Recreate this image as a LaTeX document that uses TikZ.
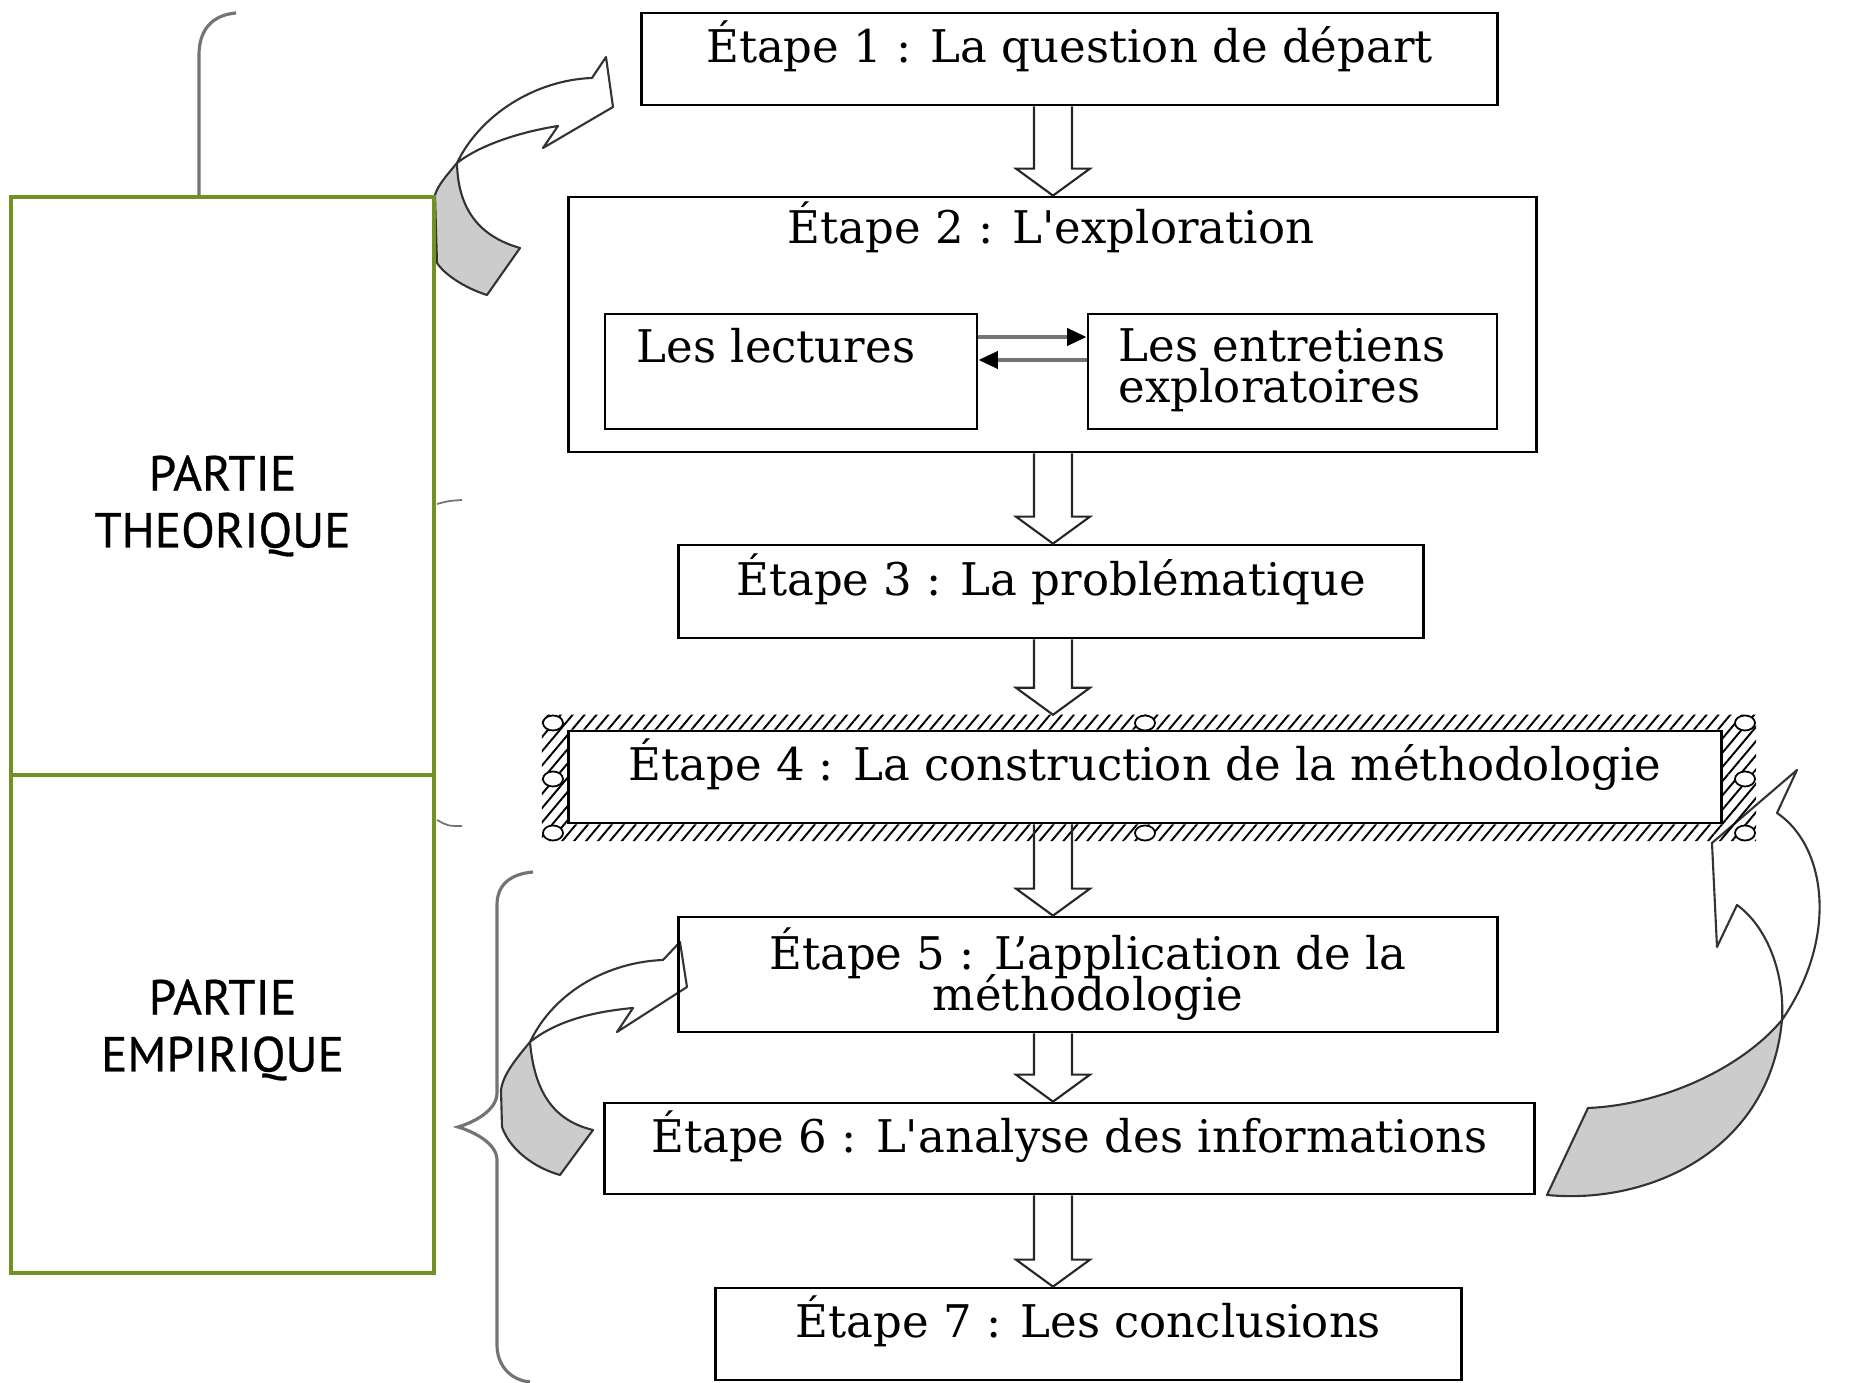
\documentclass[tikz,border=0pt]{standalone}
\usepackage{fontspec}
\setmainfont{DejaVu Serif}
\newfontfamily\partfont[FakeBold=0.6]{PT Sans}
\usepackage{xcolor}
\usetikzlibrary{arrows.meta,calc,patterns.meta,positioning}
\definecolor{partgreen}{RGB}{112,146,36}
\tikzset{
    stepfont/.style={font={\fontsize{12.8}{11.7}\selectfont\lineskiplimit=-20pt}},
    stepbox/.style={draw, rectangle, line width=0.75pt, inner sep=0pt, stepfont, align=center},
    oneline/.style={stepbox, text height=2pt, text depth=0pt},
    titletext/.style={inner sep=0pt, stepfont, text height=0pt, text depth=0pt},
    steptext/.style={inner sep=0pt, stepfont, align=left},
    partbox/.style={draw=partgreen, fill=white, rectangle, line width=1pt, minimum width=4.23cm},
    parttext/.style={inner sep=0pt, font=\partfont\fontsize{14}{16.2}\selectfont, align=center},
    hollow/.style={draw=black!85, line width=0.6pt},
    duplex/.style={draw=black!55, line width=1.1pt, -{Triangle[length=5.5pt,width=4.8pt,black]}},
    curvedarr/.style={draw=black!80, line width=0.6pt, fill=white, line join=round},
    tailfill/.style={curvedarr, fill=black!20},
    bracket/.style={draw=black!55, line width=0.9pt},
    handle/.style={draw=black, fill=white, line width=0.5pt}
}
% hollow arrow from one step down to the next
\newcommand{\stepflow}[2]{%
    \draw[hollow] ($(#1.south -| axis)+(-19,0)$) -- ($(#2.north -| axis)+(-19,-27)$) -- ++(-18,0)
        -- (#2.north -| axis) -- ($(#2.north -| axis)+(37,-27)$) -- ++(-18,0) -- ($(#1.south -| axis)+(19,0)$);
}
\begin{document}
\begin{tikzpicture}[x=0.01cm, y=-0.01cm]
    \useasboundingbox (0,0) rectangle (1865,1383);
    \coordinate (axis) at (1053,0);

    % braces (mostly hidden by the green boxes)
    \draw[bracket] (236,13) .. controls (212,15) and (199,30) .. (199,55) -- (199,197);
    \draw[bracket, line width=0.5pt] (437,504) .. controls (448,501) .. (462,500);
    \draw[bracket, line width=0.5pt] (437,820) .. controls (448,826) .. (462,826);
    \draw[bracket] (533,872) .. controls (510,874) and (497,885) .. (497,905) -- (497,1093)
        .. controls (497,1110) and (475,1122) .. (458,1127) .. controls (475,1132) and (497,1144) .. (497,1160)
        -- (497,1345) .. controls (497,1365) and (510,1380) .. (530,1382);

    % curved arrows
    \draw[tailfill] (457,163) .. controls (447,175) and (438,185) .. (435,195) -- (437,263) .. controls (445,275) and (465,288) .. (487,295)
        -- (520,248) .. controls (485,238) and (458,215) .. (457,163) -- cycle;
    \draw[curvedarr] (457,163) .. controls (480,115) and (535,80) .. (592,78) -- (606,57) -- (613,107) -- (543,148) -- (558,126)
        .. controls (520,132) and (480,145) .. (457,163) -- cycle;
    \draw[tailfill] (530,1042) .. controls (515,1060) and (503,1075) .. (501,1090) -- (502,1127) .. controls (510,1150) and (535,1168) .. (560,1175)
        -- (593,1130) .. controls (560,1122) and (535,1100) .. (530,1042) -- cycle;
    \draw[curvedarr] (530,1042) .. controls (555,990) and (610,962) .. (663,960) -- (680,942) -- (687,987) -- (617,1032) -- (633,1008)
        .. controls (590,1012) and (555,1022) .. (530,1042) -- cycle;
    \draw[tailfill] (1547,1195) -- (1588,1108) .. controls (1660,1105) and (1740,1070) .. (1782,1020)
        .. controls (1770,1150) and (1650,1205) .. (1547,1195) -- cycle;
    \draw[curvedarr] (1782,1020) .. controls (1785,970) and (1765,925) .. (1737,905) -- (1717,947) -- (1712,843) -- (1797,770) -- (1777,813)
        .. controls (1825,845) and (1840,935) .. (1782,1020) -- cycle;

    % the two parts
    \node[partbox, minimum height=5.78cm] (theo) at (222.5,486) {};
    \node[partbox, minimum height=4.98cm] (emp) at (222.5,1024) {};
    \node[parttext] (theot) at (222.5,506) {PARTIE\\THEORIQUE};
    \node[parttext] (empt) at (222.5,1030) {PARTIE\\EMPIRIQUE};

    % steps
    \node[oneline, minimum width=8.55cm, minimum height=0.92cm] (e1) at (1069.5,59) {Étape 1 : La question de départ};
    \node[stepbox, minimum width=9.67cm, minimum height=2.55cm] (e2) at (1052.5,324.5) {};
    \node[titletext] (t2) at (1051,244) {Étape 2 : L\textquotesingle exploration};
    \node[stepbox, minimum width=3.72cm, minimum height=1.15cm] (lec) at (791,371.5) {};
    \node[stepbox, minimum width=4.09cm, minimum height=1.15cm] (ent) at (1292.5,371.5) {};
    \node[steptext, anchor=north west] (lect) at (636,328) {Les lectures};
    \node[steptext, anchor=north west] (entt) at (1118,328) {Les entretiens\\exploratoires};
    \node[oneline, minimum width=7.44cm, minimum height=0.93cm] (e3) at (1051,591.5) {Étape 3 : La problématique};
    \node[minimum width=12.12cm, minimum height=1.25cm, inner sep=0pt] (sel) at (1149,778) {};
    \node[oneline, minimum width=11.52cm, minimum height=0.92cm] (e4) at (1145,777) {Étape 4 : La construction de la méthodologie};
    \node[stepbox, minimum width=8.18cm, minimum height=1.15cm] (e5) at (1088,974.5) {Étape 5 : L’application de la\\méthodologie};
    \node[oneline, minimum width=9.29cm, minimum height=0.91cm] (e6) at (1069.5,1148.5) {Étape 6 : L\textquotesingle analyse des informations};
    \node[oneline, minimum width=7.45cm, minimum height=0.92cm] (e7) at (1088.5,1334) {Étape 7 : Les conclusions};

    % selection frame round step 4
    \fill[pattern={Lines[angle=50,distance=2.6pt,line width=0.55pt]}, even odd rule]
        (sel.north west) rectangle (sel.south east) (e4.north west) rectangle (e4.south east);
    \foreach \hx/\hy in {553/723, 1145/723, 1745/723, 553/779, 1745/779, 553/833, 1145/833, 1745/833}
        \draw[handle] (\hx,\hy) ellipse[x radius=0.1cm, y radius=0.075cm];

    % lectures <-> entretiens
    \draw[duplex] ($(lec.east)+(0,-34.5)$) -- ($(ent.west)+(0,-34.5)$);
    \draw[duplex] ($(ent.west)+(0,-11.5)$) -- ($(lec.east)+(0,-11.5)$);

    % flow between the steps
    \stepflow{e1}{e2}
    \stepflow{e2}{e3}
    \stepflow{e3}{sel}
    \stepflow{e4}{e5}
    \stepflow{e5}{e6}
    \stepflow{e6}{e7}
\end{tikzpicture}
\end{document}
